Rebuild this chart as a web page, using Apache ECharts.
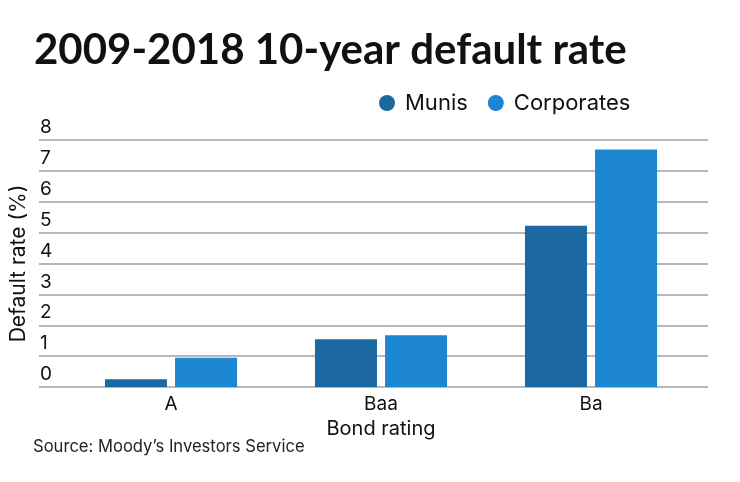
<!DOCTYPE html>
<html><head><meta charset="utf-8">
<script src="https://cdn.jsdelivr.net/npm/echarts@6/dist/echarts.min.js"></script>
<style>html,body{margin:0;padding:0;background:#fff}#c{width:740px;height:482px}</style>
</head><body><div id="c"></div>
<script>
const categories = ['A', 'Baa', 'Ba'];
const munis = [0.25, 1.55, 5.22];
const corporates = [0.95, 1.68, 7.69];
const yTicks = [0, 1, 2, 3, 4, 5, 6, 7, 8];

const TFONT = 'Lato';
const FONT = 'Inter';
const chart = echarts.init(document.getElementById('c'), null, {renderer: 'canvas'});
chart.setOption({
  backgroundColor: '#fff',
  animation: false,
  title: [
    {text: '2009-2018 10-year default rate', left: 29, top: 24,
     textStyle: {fontFamily: TFONT, fontWeight: 'bold', fontSize: 42, color: '#111'}},
    {text: 'Source: Moody\u2019s Investors Service', left: 28, top: 433,
     textStyle: {fontFamily: FONT, fontWeight: 'normal', fontSize: 16.6, color: '#222'}}
  ],
  legend: {
    data: ['Munis', 'Corporates'], left: 374, top: 87, icon: 'circle',
    itemWidth: 16, itemHeight: 16, itemGap: 20,
    textStyle: {fontFamily: FONT, fontSize: 22, color: '#111', padding: [0, 0, 0, 5]}
  },
  grid: [
    {left: 32, right: 32, top: 140, bottom: 95},
    {left: 66, right: 44, top: 140, bottom: 95}
  ],
  xAxis: [
    {gridIndex: 0, type: 'value', show: false, min: 0, max: 1},
    {gridIndex: 1, type: 'category', data: categories,
     axisLine: {show: false}, axisTick: {show: false},
     axisLabel: {fontFamily: FONT, fontSize: 19, color: '#111', margin: 8},
     name: 'Bond rating', nameLocation: 'middle', nameGap: 30,
     nameTextStyle: {fontFamily: FONT, fontSize: 20, color: '#111'}}
  ],
  yAxis: [
    {gridIndex: 0, type: 'value', min: yTicks[0], max: yTicks[yTicks.length - 1], interval: 1,
     axisLine: {show: false}, axisTick: {show: false},
     splitLine: {show: true, lineStyle: {color: '#a0a0a0', width: 1.5}},
     axisLabel: {inside: true, margin: 1, verticalAlign: 'bottom', padding: [0, 0, 3, 0],
                 fontFamily: FONT, fontSize: 19, color: '#111'},
     name: 'Default rate (%)', nameLocation: 'middle', nameGap: 7,
     nameTextStyle: {fontFamily: FONT, fontSize: 21, color: '#111'}},
    {gridIndex: 1, type: 'value', min: 0, max: 8, show: false}
  ],
  series: [
    {name: 'Munis', type: 'bar', xAxisIndex: 1, yAxisIndex: 1, data: munis,
     barWidth: 62, barGap: '13%', itemStyle: {color: '#1c68a0'}},
    {name: 'Corporates', type: 'bar', xAxisIndex: 1, yAxisIndex: 1, data: corporates,
     barWidth: 62, barGap: '13%', itemStyle: {color: '#1c86d2'}}
  ]
});
</script></body></html>
